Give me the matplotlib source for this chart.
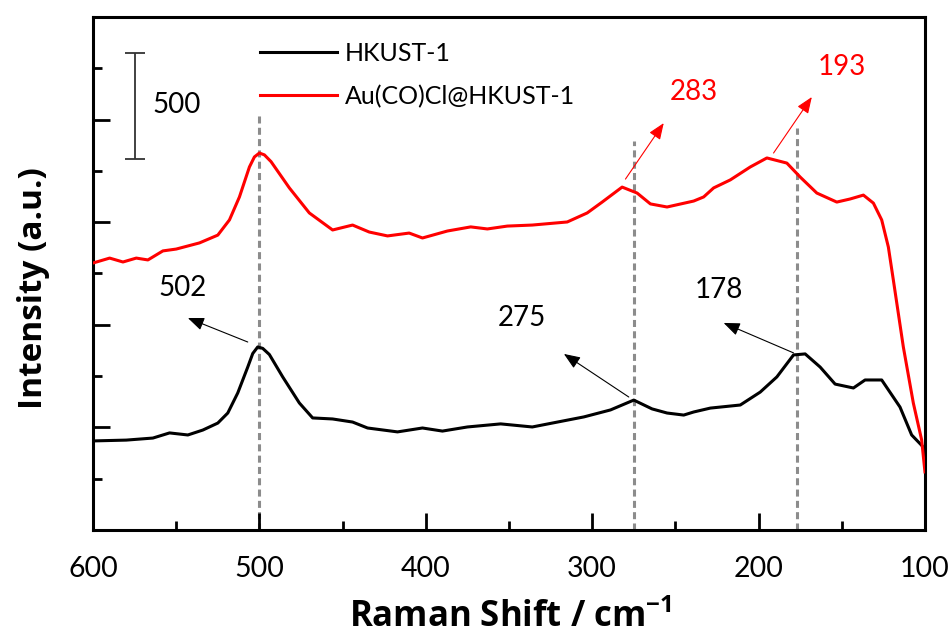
import matplotlib
matplotlib.use('Agg')
import matplotlib.pyplot as plt

# Raman shift (cm-1) and intensity
hk_x = [600, 580, 564, 554, 543, 534, 525, 519, 513, 507, 504, 501, 498, 494, 486, 476, 468, 456, 444, 435,
        417, 402, 390, 375, 355, 336, 324, 305, 289, 275, 264, 255, 245, 239, 229, 211, 199, 189, 179, 172,
        163, 154, 143, 136, 126, 115, 108, 101, 100]
hk_y = [434, 438, 448, 473, 463, 487, 521, 570, 668, 794, 860, 892, 885, 855, 746, 619, 546, 541, 526, 497,
        478, 497, 482, 502, 517, 502, 521, 551, 585, 633, 590, 570, 560, 575, 594, 609, 672, 746, 853, 858,
        794, 711, 692, 731, 731, 599, 463, 404, 341]

au_x = [600, 590, 582, 574, 567, 558, 550, 536, 525, 518, 512, 506, 503, 500, 497, 493, 482, 470, 456, 444,
        434, 423, 410, 402, 387, 373, 363, 351, 336, 315, 303, 294, 282, 273, 265, 255, 239, 233, 227, 217,
        205, 195, 183, 175, 165, 153, 145, 137, 131, 126, 122, 119, 113, 107, 102, 100]
au_y = [1301, 1325, 1306, 1325, 1316, 1360, 1369, 1399, 1437, 1511, 1623, 1769, 1818, 1837, 1828, 1795, 1667, 1545, 1462, 1486,
        1452, 1433, 1447, 1423, 1457, 1477, 1467, 1481, 1486, 1501, 1545, 1598, 1671, 1642, 1589, 1574, 1603, 1623, 1667, 1706,
        1769, 1813, 1788, 1720, 1642, 1598, 1613, 1632, 1593, 1511, 1379, 1218, 892, 619, 439, 283]

# guide lines: position, top
guide_x = [500, 275, 177]
guide_top = [2032, 1896, 1959]

# peak labels: text, text pos, arrow head, arrow tail, colour
peaks = [
    ('502', (546, 1179), (543, 1033), (507, 916), 'black'),
    ('275', (342, 1033), (317, 858), (278, 648), 'black'),
    ('178', (224, 1170), (221, 1009), (179, 863), 'black'),
    ('283', (239, 2134), (257, 1983), (280, 1710), 'red'),
    ('193', (150, 2256), (168, 2110), (191, 1837), 'red'),
]

plt.rcParams['font.family'] = ['Lato', 'DejaVu Sans']
plt.rcParams['mathtext.fontset'] = 'custom'
plt.rcParams['mathtext.bf'] = 'Open Sans:bold'
plt.rcParams['mathtext.default'] = 'bf'

fig = plt.figure(figsize=(9.52, 6.36), dpi=100)
ax = fig.add_axes([0.0977, 0.1667, 0.8739, 0.8066])

for x, top in zip(guide_x, guide_top):
    ax.vlines(x, 0, top, colors='#8c8c8c', linestyles=(0, (2.3, 1.4)), lw=2.2, zorder=1)

ax.plot(hk_x, hk_y, color='black', lw=2.2, label='HKUST-1', zorder=3)
ax.plot(au_x, au_y, color='red', lw=2.2, label='Au(CO)Cl@HKUST-1', zorder=3)

for txt, tpos, head, tail, col in peaks:
    ax.annotate('', xy=head, xytext=tail,
                arrowprops=dict(arrowstyle='-|>,head_length=0.55,head_width=0.22', color=col,
                                lw=0.8, mutation_scale=18, shrinkA=0, shrinkB=0))
    ax.text(tpos[0], tpos[1], txt, color=col, fontsize=20, ha='center', va='center')

# scale bar
ax.errorbar([575], [2066], yerr=[258], color='#333333', lw=1.3, capsize=7.5, capthick=1.3)
ax.text(550, 2071, '500', fontsize=20, ha='center', va='center')

ax.set_xlim(600, 100)
ax.set_ylim(0, 2500)
ax.set_xticks([600, 500, 400, 300, 200, 100])
ax.set_xticks([550, 450, 350, 250, 150], minor=True)
ax.set_yticks([500, 1000, 1500, 2000])
ax.set_yticks([250, 750, 1250, 1750, 2250], minor=True)
ax.set_yticklabels([])
ax.tick_params(which='both', direction='in', width=2, top=False, right=False)
ax.tick_params(which='major', length=12)
ax.tick_params(which='minor', length=6.5)
ax.tick_params(axis='x', labelsize=20.5, pad=19)
for s in ax.spines.values():
    s.set_linewidth(2.2)

ax.legend(loc='upper left', bbox_to_anchor=(0.2007, 0.951), frameon=False, fontsize=18,
          handlelength=3.1, handletextpad=0.3, labelspacing=0.78, borderpad=0, borderaxespad=0)

fig.text(0.536, 0.014, 'Raman Shift / cm$^{-1}$', fontsize=25, fontweight='bold',
         family='Open Sans', ha='center', va='baseline')
fig.text(0.035, 0.547, 'Intensity (a.u.)', fontsize=24, fontweight='bold', family='Open Sans',
         rotation=90, ha='center', va='center')

fig.savefig('out.png', dpi=100)
